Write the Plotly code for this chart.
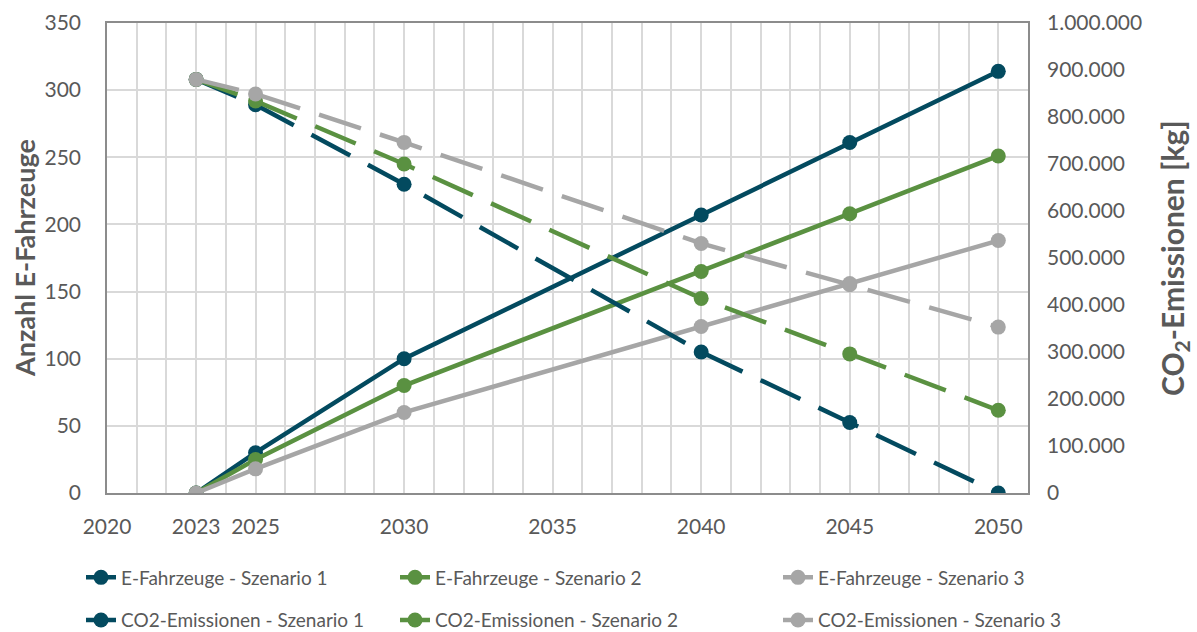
import plotly.graph_objects as go

# Jahre der Stützpunkte
years = [2023, 2025, 2030, 2040, 2045, 2050]

# Anzahl E-Fahrzeuge je Szenario (linke Achse)
ev_s1 = [0, 30, 100, 207, 261, 314]
ev_s2 = [0, 25, 80, 165, 208, 251]
ev_s3 = [0, 18, 60, 124, 156, 188]

# CO2-Emissionen in kg je Szenario (rechte Achse)
co2_s1 = [880000, 826000, 657000, 300000, 150000, 0]
co2_s2 = [880000, 834000, 700000, 414000, 296000, 176000]
co2_s3 = [880000, 849000, 746000, 531000, 443000, 353000]

x_ticks = [2020, 2023, 2025, 2030, 2035, 2040, 2045, 2050]
y2_ticks = list(range(0, 1000001, 100000))
y2_labels = [f"{v:,}".replace(",", ".") for v in y2_ticks]

DARK = "#034A5F"
GREEN = "#5A9141"
GRAY = "#A6A6A6"
TXT = "#595959"
FONT = "Lato"

W, H = 1197, 632
L, R, T, B = 107, 169, 23, 139
plot_w, plot_h = W - L - R, H - T - B

fig = go.Figure()

colors = [DARK, GREEN, GRAY]
ev_names = ["E-Fahrzeuge - Szenario 1", "E-Fahrzeuge - Szenario 2", "E-Fahrzeuge - Szenario 3"]
co2_names = ["CO2-Emissionen - Szenario 1", "CO2-Emissionen - Szenario 2", "CO2-Emissionen - Szenario 3"]
legend_names = ["legend", "legend2", "legend3"]

# eine Legendenspalte pro Szenario
for i, (name, vals) in enumerate(zip(ev_names, [ev_s1, ev_s2, ev_s3])):
    fig.add_trace(go.Scatter(
        x=years, y=vals, name=name, mode="lines+markers",
        line=dict(color=colors[i], width=4.5),
        marker=dict(color=colors[i], size=15),
        legend=legend_names[i], legendgroup=f"ev{i}", legendrank=1,
        yaxis="y"))

for i, (name, vals) in enumerate(zip(co2_names, [co2_s1, co2_s2, co2_s3])):
    fig.add_trace(go.Scatter(
        x=years, y=vals, name=name, mode="lines+markers",
        line=dict(color=colors[i], width=4.5, dash="44px,20px"),
        marker=dict(color=colors[i], size=15),
        legend=legend_names[i], legendgroup=f"co2{i}", legendrank=2,
        yaxis="y2"))

col_x = [81, 395, 778]
legend_layouts = {}
for i, lname in enumerate(legend_names):
    legend_layouts[lname] = dict(
        xref="container", yref="container",
        x=col_x[i] / W, y=1 - 599 / H,
        xanchor="left", yanchor="middle",
        orientation="v", bgcolor="rgba(0,0,0,0)",
        traceorder="grouped", tracegroupgap=15,
        font=dict(family=FONT, size=19, color=TXT),
        itemwidth=30)

# Achsentitel als gedrehte Beschriftungen
fig.add_annotation(
    text="<b>Anzahl E-Fahrzeuge</b>", textangle=-90, showarrow=False,
    xref="paper", yref="paper", x=(24 - L) / plot_w, y=0.5,
    xanchor="center", yanchor="middle",
    font=dict(family=FONT, size=27, color=TXT))
fig.add_annotation(
    text="<b>CO<sub>2</sub>-Emissionen [kg]</b>", textangle=-90, showarrow=False,
    xref="paper", yref="paper", x=(1174 - L) / plot_w, y=0.5,
    xanchor="center", yanchor="middle",
    font=dict(family=FONT, size=30, color=TXT))

fig.update_layout(
    width=W, height=H,
    margin=dict(l=L, r=R, t=T, b=B, autoexpand=False),
    paper_bgcolor="white", plot_bgcolor="white",
    font=dict(family=FONT, color=TXT),
    showlegend=True,
    xaxis=dict(
        range=[2020, 2051], tickvals=x_ticks, ticktext=[str(v) for v in x_ticks],
        showgrid=True, gridcolor="#D9D9D9", gridwidth=1.5,
        minor=dict(tick0=2020, dtick=1, showgrid=True, gridcolor="#D9D9D9", gridwidth=1.5),
        showline=True, linecolor="#8C8C8C", linewidth=1.5, mirror=True,
        ticks="", ticklabelstandoff=14, zeroline=False, automargin=False,
        tickfont=dict(family=FONT, size=21, color=TXT)),
    yaxis=dict(
        range=[0, 350], dtick=50, showgrid=True, gridcolor="#D9D9D9", gridwidth=1.5,
        showline=True, linecolor="#8C8C8C", linewidth=1.5, mirror=True,
        ticks="", ticklabelstandoff=20, zeroline=False, automargin=False,
        tickfont=dict(family=FONT, size=21, color=TXT)),
    yaxis2=dict(
        range=[0, 1000000], overlaying="y", side="right", anchor="x",
        tickvals=y2_ticks, ticktext=y2_labels, showgrid=False, zeroline=False,
        ticks="", ticklabelstandoff=18, showline=False, automargin=False,
        tickfont=dict(family=FONT, size=21, color=TXT)),
    **legend_layouts,
)

fig.write_html("out.html")
